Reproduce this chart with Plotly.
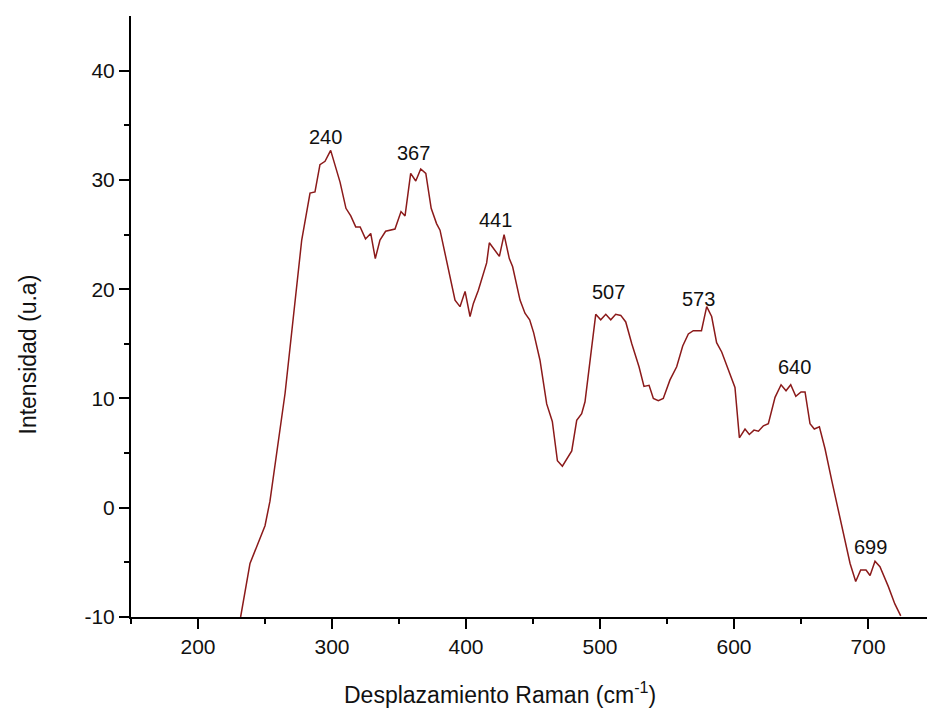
import plotly.graph_objects as go

# Raman spectrum
raman_shift = [231.8, 238.8, 250.0, 253.7, 265.0, 270.0, 277.4, 283.6, 287.3, 291.0,
               294.8, 299.0, 306.0, 310.4, 314.0, 317.7, 321.0, 325.0, 328.9, 332.3,
               335.8, 340.0, 347.0, 351.5, 354.5, 358.7, 362.5, 366.2, 370.0, 374.0,
               378.0, 380.6, 388.0, 391.8, 395.5, 399.3, 403.0, 405.5, 409.2, 415.4,
               417.4, 424.9, 428.4, 432.3, 434.8, 440.3, 444.0, 447.5, 450.5, 455.2,
               460.2, 464.4, 468.2, 471.9, 478.9, 482.6, 486.3, 488.8, 493.0, 496.8,
               500.5, 504.3, 508.0, 511.7, 515.5, 519.2, 523.7, 529.1, 532.8, 536.6,
               539.8, 543.5, 547.2, 552.2, 557.2, 561.7, 565.9, 569.6, 575.7, 579.6,
               583.3, 587.0, 590.8, 595.8, 600.7, 604.0, 608.2, 611.4, 614.9, 618.2,
               621.9, 625.6, 630.6, 635.1, 638.8, 642.3, 646.1, 650.0, 653.0, 656.7,
               659.9, 663.7, 667.9, 672.9, 676.6, 680.8, 686.6, 690.8, 694.5, 698.5,
               701.5, 705.2, 708.9, 715.1, 720.0, 724.4]
intensity = [-10.0, -5.1, -1.65, 0.6, 10.5, 16.2, 24.5, 28.8, 28.9, 31.4,
             31.7, 32.7, 29.8, 27.4, 26.7, 25.7, 25.7, 24.6, 25.1, 22.8,
             24.5, 25.3, 25.5, 27.1, 26.7, 30.6, 29.9, 31.0, 30.6, 27.4,
             26.0, 25.4, 21.1, 19.0, 18.4, 19.8, 17.5, 18.7, 19.9, 22.4,
             24.25, 23.0, 25.0, 22.8, 22.05, 19.0, 17.8, 17.2, 16.0, 13.5,
             9.5, 7.9, 4.3, 3.8, 5.2, 8.0, 8.6, 9.7, 13.9, 17.7,
             17.2, 17.7, 17.2, 17.7, 17.6, 17.0, 15.0, 12.9, 11.1, 11.2,
             10.0, 9.8, 10.0, 11.7, 12.9, 14.8, 15.9, 16.2, 16.2, 18.4,
             17.5, 15.1, 14.25, 12.7, 11.0, 6.4, 7.2, 6.7, 7.1, 7.0,
             7.5, 7.7, 10.1, 11.25, 10.7, 11.25, 10.2, 10.6, 10.6, 7.7,
             7.2, 7.4, 5.4, 2.5, 0.4, -2.1, -5.1, -6.75, -5.7, -5.7,
             -6.2, -4.9, -5.4, -7.2, -8.8, -9.9]

# Peak labels
peak_text = ["240", "367", "441", "507", "573", "640", "699"]
peak_x = [294.8, 360.7, 422.0, 506.2, 573.4, 644.8, 701.5]
peak_y = [33.9, 32.5, 26.3, 19.7, 19.1, 12.9, -3.6]

x_tick_vals = [200, 300, 400, 500, 600, 700]
x_tick_text = ["200", "300", "400", "500", "600", "700"]
y_tick_vals = [-10, 0, 10, 20, 30, 40]
y_tick_text = ["-10", "0", "10", "20", "30", "40"]

FONT = "Liberation Sans, Arial, sans-serif"

fig = go.Figure()
fig.add_trace(go.Scatter(x=raman_shift, y=intensity, mode="lines",
                         line=dict(color="#8B1A1A", width=1.5),
                         showlegend=False, hoverinfo="skip"))

for t, px, py in zip(peak_text, peak_x, peak_y):
    fig.add_annotation(x=px, y=py, text=t, showarrow=False,
                       xanchor="center", yanchor="middle",
                       font=dict(family=FONT, size=20, color="#111111"))

# Axis titles
fig.add_annotation(xref="paper", yref="paper", x=(342 - 131) / 796, y=-(693 - 617) / 601,
                   text="Desplazamiento Raman (cm<sup>-1</sup>)", showarrow=False,
                   xanchor="left", yanchor="middle",
                   font=dict(family=FONT, size=23, color="#111111"))
fig.add_annotation(xref="paper", yref="paper", x=(27.5 - 131) / 796, y=(617 - 355) / 601,
                   text="Intensidad (u.a)", showarrow=False, textangle=-90,
                   xanchor="center", yanchor="middle",
                   font=dict(family=FONT, size=23, color="#111111"))

axis_common = dict(showline=True, linecolor="black", linewidth=2, mirror=False,
                   showgrid=False, zeroline=False, ticks="outside", ticklen=10,
                   tickwidth=2, tickcolor="black",
                   tickfont=dict(family=FONT, size=21, color="#111111"))

fig.update_xaxes(range=[150, 744], tickvals=x_tick_vals, ticktext=x_tick_text,
                 minor=dict(tickvals=[150, 250, 350, 450, 550, 650], ticks="outside",
                            ticklen=5, tickwidth=2, tickcolor="black"),
                 **axis_common)
fig.update_yaxes(range=[-10, 45], tickvals=y_tick_vals, ticktext=y_tick_text,
                 minor=dict(tickvals=[-5, 5, 15, 25, 35], ticks="outside",
                            ticklen=5, tickwidth=2, tickcolor="black"),
                 **axis_common)

fig.update_layout(width=927, height=708,
                  margin=dict(l=131, r=0, t=16, b=91, pad=0),
                  plot_bgcolor="white", paper_bgcolor="white")

fig.write_html("out.html")
